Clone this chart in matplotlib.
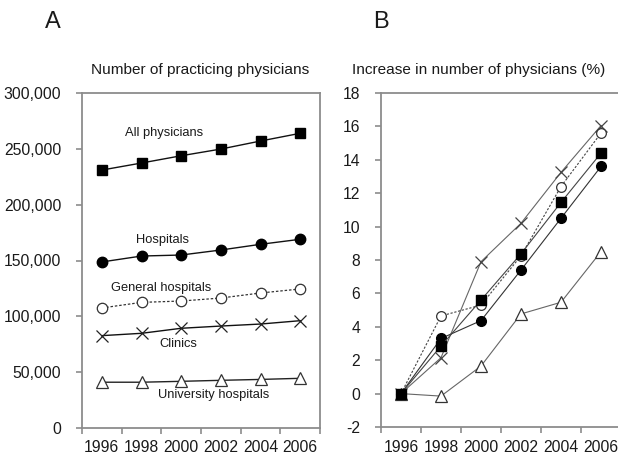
import matplotlib
matplotlib.use("Agg")
import matplotlib.pyplot as plt
from matplotlib.ticker import FuncFormatter, FixedLocator

plt.rcParams['font.family'] = ['Liberation Sans', 'DejaVu Sans']
plt.rcParams['axes.unicode_minus'] = False

years = ["1996", "1998", "2000", "2002", "2004", "2006"]

# Panel A: number of practicing physicians
all_phys = [231000, 237300, 243800, 249800, 257000, 263900]
hospitals = [148700, 154000, 154900, 159400, 164500, 169000]
general_hosp = [107500, 112500, 113700, 116400, 120900, 124500]
clinics = [82700, 84800, 89300, 91300, 93100, 96100]
univ_hosp = [41000, 41000, 41800, 42700, 43500, 44500]

# Panel B: increase in number of physicians (%)
inc_all = [0, 2.85, 5.6, 8.37, 11.45, 14.4]
inc_hosp = [0, 3.3, 4.37, 7.4, 10.5, 13.6]
inc_general = [0, 4.65, 5.3, 8.25, 12.4, 15.6]
inc_clinics = [0, 2.15, 7.9, 10.2, 13.25, 16.05]
inc_univ = [0, -0.15, 1.65, 4.77, 5.47, 8.5]

W, H = 618, 458
fig = plt.figure(figsize=(W / 100, H / 100), dpi=100)

axA = fig.add_axes([82 / W, (H - 428) / H, 238 / W, 335 / H])
axB = fig.add_axes([381 / W, (H - 427) / H, 240 / W, 334 / H])

x = list(range(len(years)))
spine_c = '#8c8c8c'
txt_c = '#1a1a1a'

def style(ax):
    for s in ['top', 'right', 'left', 'bottom']:
        ax.spines[s].set_color(spine_c)
        ax.spines[s].set_linewidth(1.3)
    ax.set_xlim(-0.5, len(years) - 0.5)
    ax.set_xticks(x)
    ax.set_xticklabels(years)
    ax.xaxis.set_minor_locator(FixedLocator([i - 0.5 for i in range(len(years) + 1)]))
    ax.tick_params(axis='x', which='major', length=0, pad=9, labelsize=11.3, labelcolor=txt_c)
    ax.tick_params(axis='x', which='minor', length=4, width=1.2, color=spine_c, direction='out')
    ax.tick_params(axis='y', length=4, width=1.2, color=spine_c, direction='out', pad=11,
                   labelsize=11.3, labelcolor=txt_c)

style(axA)
lc = '#111111'
axA.plot(x, all_phys, color=lc, lw=1.0, marker='s', ms=7, mfc='black', mec='black')
axA.plot(x, hospitals, color=lc, lw=1.0, marker='o', ms=7.5, mfc='black', mec='black')
axA.plot(x, general_hosp, color='#333333', lw=0.9, ls=(0, (2, 1.5)), marker='o', ms=7.5,
         mfc='white', mec='#333333', mew=0.9)
axA.plot(x, clinics, color=lc, lw=1.0, marker='x', ms=8, mec='#222222', mew=0.9)
axA.plot(x, univ_hosp, color='#222222', lw=1.0, marker='^', ms=8, mfc='white', mec='#333333', mew=0.9)
axA.set_ylim(0, 300000)
axA.set_yticks(range(0, 300001, 50000))
axA.yaxis.set_major_formatter(FuncFormatter(lambda v, p: f"{int(v):,}"))

def lab(px, py, s):
    fig.text(px, py, s, ha='center', va='center', fontsize=9.3, color=txt_c)

lab(164 / W, 1 - 133 / H, "All physicians")
lab(163 / W, 1 - 240 / H, "Hospitals")
lab(161 / W, 1 - 288 / H, "General hospitals")
lab(178 / W, 1 - 344 / H, "Clinics")
lab(214 / W, 1 - 395 / H, "University hospitals")

fig.text(200 / W, 1 - 70 / H, "Number of practicing physicians", ha='center', va='center',
         fontsize=11.1, color=txt_c)
fig.text(53 / W, 1 - 22 / H, "A", ha='center', va='center', fontsize=17, color=txt_c)

style(axB)
gc = '#666666'
axB.plot(x, inc_univ, color=gc, lw=0.8, marker='^', ms=8, mfc='white', mec='#333333', mew=0.9)
axB.plot(x, inc_clinics, color=gc, lw=0.8, marker='x', ms=8, mec='#444444', mew=0.9)
axB.plot(x, inc_hosp, color='#333333', lw=0.8, marker='o', ms=7, mfc='black', mec='black')
axB.plot(x, inc_general, color='#444444', lw=0.8, ls=(0, (2, 1.5)), marker='o', ms=7,
         mfc='white', mec='#333333', mew=0.9)
axB.plot(x, inc_all, color='#444444', lw=0.8, marker='s', ms=7, mfc='black', mec='black')
axB.set_ylim(-2, 18)
axB.set_yticks(range(-2, 19, 2))

fig.text(352 / W, 1 - 70 / H, "Increase in number of physicians (%)", ha='left', va='center',
         fontsize=11.1, color=txt_c)
fig.text(381 / W, 1 - 22 / H, "B", ha='center', va='center', fontsize=17, color=txt_c)

fig.savefig("out.png", dpi=100)
